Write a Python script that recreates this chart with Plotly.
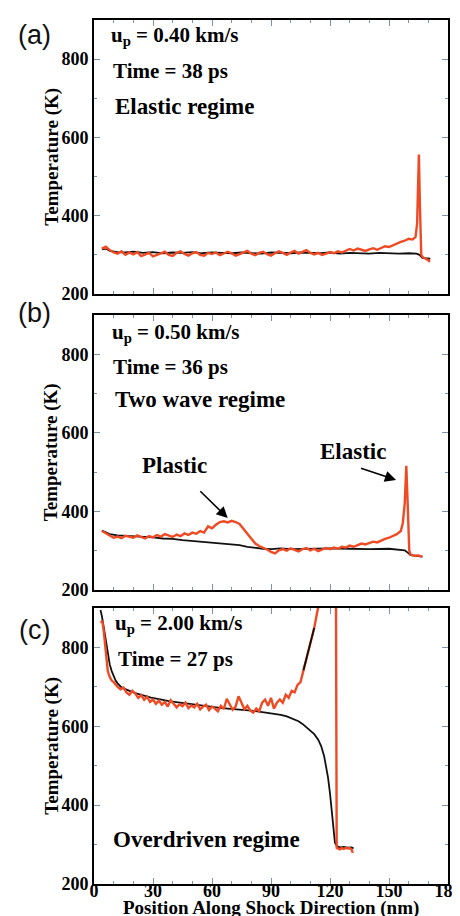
import plotly.graph_objects as go

# ---------------- data ----------------
# Panel (a): up = 0.40 km/s, 38 ps
a_black_x = [4, 6, 8, 12, 16, 20, 25, 30, 35, 40, 45, 50, 55, 60, 65, 70, 75, 80, 85, 90,
             95, 100, 105, 110, 115, 120, 125, 130, 135, 140, 145, 150, 155, 160, 164, 165.5, 167, 169, 171]
a_black_y = [314, 316, 310, 307, 306, 308, 305, 307, 304, 306, 305, 307, 304, 306, 305, 304, 306, 305, 303, 306,
             305, 304, 306, 305, 304, 306, 303, 305, 304, 303, 305, 304, 303, 304, 303, 300, 292, 291, 290]

a_red_x = [4, 6, 8, 10, 12, 14, 16, 18, 20, 22,
           24, 26, 28, 30, 32, 34, 36, 38, 40, 42,
           44, 46, 48, 50, 52, 54, 56, 58, 60, 62,
           64, 66, 68, 70, 72, 74, 76, 78, 80, 82,
           84, 86, 88, 90, 92, 94, 96, 98, 100, 102,
           104, 106, 108, 110, 112, 114, 116, 118, 120, 122,
           124, 126, 128, 130, 132, 134, 136, 138, 140, 142,
           144, 146, 148, 150, 152, 154, 156, 158, 160, 162,
           163.5, 164.3, 165.2, 165.7, 166.4, 167.2, 168, 169, 170, 170.8]
a_red_y = [316, 321, 312, 306, 303, 309, 300, 306, 301, 307,
           297, 301, 305, 296, 301, 304, 308, 300, 297, 305,
           309, 302, 298, 304, 307, 300, 298, 305, 302, 306,
           299, 303, 308, 304, 298, 302, 306, 310, 303, 299,
           305, 308, 302, 298, 304, 309, 305, 300, 306, 310,
           303, 308, 312, 305, 301, 305, 300, 303, 307, 304,
           309, 306, 311, 315, 311, 316, 313, 310, 314, 317,
           313, 318, 322, 320, 325, 329, 333, 336, 341, 339,
           346, 380, 556, 430, 300, 294, 292, 289, 286, 282]

# Panel (b): up = 0.50 km/s, 36 ps
b_black_x = [4, 6, 8, 12, 16, 20, 25, 30, 35, 40, 45, 50, 55, 60, 65, 70, 74, 78, 82, 86,
             90, 95, 100, 110, 120, 130, 140, 150, 155, 158, 159.5, 161, 164, 167]
b_black_y = [351, 347, 342, 339, 338, 337, 336, 334, 331, 330, 327, 325, 323, 321, 319, 317, 314, 310, 307, 305,
             304, 306, 304, 305, 306, 305, 304, 305, 303, 301, 295, 289, 287, 285]

b_red_x = [4, 6, 8, 10, 12, 14, 16, 18, 20, 22,
           24, 26, 28, 30, 32, 34, 36, 38, 40, 42,
           44, 46, 48, 50, 52, 54, 56, 58, 60, 62,
           64, 66, 68, 70, 72, 74, 76, 78, 80, 82,
           84, 86, 88, 90, 92, 94, 96, 98, 100, 102,
           104, 106, 108, 110, 112, 114, 116, 118, 120, 122,
           124, 126, 128, 130, 132, 134, 136, 138, 140, 142,
           144, 146, 148, 150, 152, 154, 156,
           157, 158, 158.8, 159.5, 160.3, 161, 163, 165, 167]
b_red_y = [350, 344, 338, 333, 336, 332, 338, 335, 333, 339,
           336, 331, 337, 334, 340, 336, 342, 338, 335, 341,
           337, 344, 340, 346, 343, 350, 346, 362, 357, 366,
           373, 375, 372, 376, 373, 368, 355, 345, 330, 318,
           312, 308, 303, 297, 293, 301, 304, 300, 306, 302,
           298, 304, 307, 301, 305, 299, 303, 307, 304, 308,
           305, 310, 308, 313, 310, 315, 318, 316, 320, 323,
           321, 326, 330, 333, 338, 342, 350,
           370, 420, 516, 420, 300, 290, 287, 288, 284]

# Panel (c): up = 2.00 km/s, 27 ps
c_black_x = [3.3, 4, 5, 6, 7, 8, 9, 10, 11, 12, 13.5, 15, 17, 19, 21, 23, 25, 27, 29, 31,
             33, 35, 38, 41, 44, 47, 50, 53, 56, 59, 62, 65, 68, 71, 74, 77, 80, 83, 86, 89,
             92, 95, 98, 101, 104, 106, 108, 110, 112, 114, 115.5, 117, 118, 119, 120, 121,
             121.8, 122.5, 123.5, 125, 127, 129, 131, 132]
c_black_y = [895, 880, 850, 815, 782, 757, 740, 727, 716, 709, 701, 696, 691, 688, 684, 681, 678, 676, 673, 671,
             668, 667, 664, 662, 659, 657, 655, 653, 651, 650, 648, 646, 645, 644, 642, 641, 640, 638, 636, 634,
             632, 629, 625, 620, 613, 606, 598, 590, 580, 566, 550, 525, 500, 470, 430, 380,
             330, 305, 296, 293, 294, 292, 293, 290]

c_black2_x = [106.5, 107.2, 108, 109, 110, 111, 112]
c_black2_y = [742, 756, 766, 785, 806, 830, 850]

c_red_x = [3.5, 4.2, 5, 6, 7, 8, 9, 10, 11, 12,
           13.5, 15, 16.5, 18, 19.5, 21, 22.5, 24, 25.5, 27,
           28.5, 30, 31.5, 33, 34.5, 36, 37.5, 39, 40.5, 42,
           43.5, 45, 46.5, 48, 49.5, 51, 52.5, 54, 55.5, 57,
           58.5, 60, 61.5, 63, 64.5, 66, 67.5, 69, 70.5, 72,
           73.5, 75, 76.5, 78, 79.5, 81, 82.5, 84, 85.5, 87,
           88.5, 90, 91.5, 93, 94.5, 96, 97.5, 99, 100.5, 102,
           103.5, 105, 106.5, 108, 110, 112, 113.5, 115, 117, 119,
           121, 122.6, 123.0, 123.4, 124, 125, 126, 127, 128, 129,
           130, 131, 131.6]
c_red_y = [862, 868, 840, 790, 740, 725, 716, 712, 706, 700,
           694, 698, 686, 680, 690, 683, 672, 679, 667, 675,
           662, 668, 657, 665, 655, 662, 650, 666, 657, 648,
           656, 651, 660, 646, 653, 648, 657, 643, 650, 655,
           641, 650, 645, 638, 652, 644, 670, 655, 642, 650,
           676, 660, 643, 652, 640, 635, 645, 638, 660, 668,
           652, 672, 645, 660, 668, 660, 680, 672, 690, 686,
           705, 712, 742, 766, 806, 850, 890, 925, 980, 1030,
           1060, 1040, 1000, 292, 290, 288, 291, 289, 292, 290,
           291, 287, 279]

panels = [
    ("x", "y", a_black_x, a_black_y, a_red_x, a_red_y),
    ("x2", "y2", b_black_x, b_black_y, b_red_x, b_red_y),
    ("x3", "y3", c_black_x, c_black_y, c_red_x, c_red_y),
]

RED = "#ee4a24"
BLACK = "#111111"
SERIF = "Liberation Serif"

fig = go.Figure()
for xa, ya, bx, by, rx, ry in panels:
    fig.add_trace(go.Scatter(x=bx, y=by, mode="lines", xaxis=xa, yaxis=ya,
                             line=dict(color=BLACK, width=1.8), hoverinfo="skip"))
    fig.add_trace(go.Scatter(x=rx, y=ry, mode="lines", xaxis=xa, yaxis=ya,
                             line=dict(color=RED, width=2.4), hoverinfo="skip"))
fig.add_trace(go.Scatter(x=c_black2_x, y=c_black2_y, mode="lines", xaxis="x3", yaxis="y3",
                         line=dict(color=BLACK, width=1.8), hoverinfo="skip"))

TICKC = "#7f93a8"
tickfont = dict(family=SERIF, size=18, color="black", weight="bold")


def xax(anchor, labels):
    return dict(range=[0, 180], domain=[0, 1], anchor=anchor, showline=True, linecolor="black",
                linewidth=2, mirror="allticks", ticks="inside", ticklen=6, tickwidth=1.2,
                tickcolor=TICKC, tick0=0, dtick=30, showgrid=False, zeroline=False,
                minor=dict(dtick=10, ticks="inside", ticklen=3, tickcolor=TICKC, showgrid=False),
                showticklabels=labels, tickfont=tickfont, ticklabeloverflow="allow",
                ticklabelstandoff=-11)


def yax(anchor, dom):
    return dict(range=[200, 900], domain=dom, anchor=anchor, showline=True, linecolor="black",
                linewidth=2, mirror="allticks", ticks="inside", ticklen=6, tickwidth=1.2,
                tickcolor=TICKC, tick0=200, dtick=200, showgrid=False, zeroline=False,
                minor=dict(dtick=100, ticks="inside", ticklen=3, tickcolor=TICKC, showgrid=False),
                tickfont=tickfont, ticklabelstandoff=0, ticklabeloverflow="allow")


dom_a = [0.6829, 1.0]
dom_b = [0.3403, 0.6586]
dom_c = [0.0, 0.3194]

fig.update_layout(
    width=460, height=916,
    margin=dict(l=86, r=6, t=12, b=40),
    paper_bgcolor="white", plot_bgcolor="white",
    showlegend=False,
    xaxis=xax("y", False), yaxis=yax("x", dom_a),
    xaxis2=xax("y2", False), yaxis2=yax("x2", dom_b),
    xaxis3=xax("y3", True), yaxis3=yax("x3", dom_c),
)

ann = []
f_small = dict(family=SERIF, size=21, color="black", weight="bold")
f_big = dict(family=SERIF, size=23, color="black", weight="bold")


def txt(xr, yr, x, y, t, f, xanchor="left"):
    ann.append(dict(xref=xr, yref=yr, x=x, y=y, text=t, showarrow=False, font=f,
                    xanchor=xanchor, yanchor="middle"))


# panel (a)
txt("x", "y", 7.7, 859, "u<sub>p</sub> = 0.40 km/s", f_small)
txt("x", "y", 8.5, 770, "Time = 38 ps", f_small)
txt("x", "y", 9.8, 678, "Elastic regime", f_big)
# panel (b)
txt("x2", "y2", 8.1, 854, "u<sub>p</sub> = 0.50 km/s", f_small)
txt("x2", "y2", 8.8, 768, "Time = 36 ps", f_small)
txt("x2", "y2", 9.8, 686, "Two wave regime", f_big)
txt("x2", "y2", 41.1, 518, "Plastic", f_big, "center")
txt("x2", "y2", 131.6, 553, "Elastic", f_big, "center")
# panel (c)
txt("x3", "y3", 9.6, 859, "u<sub>p</sub> = 2.00 km/s", f_small)
txt("x3", "y3", 11.3, 771, "Time = 27 ps", f_small)
txt("x3", "y3", 8.8, 314, "Overdriven regime", f_big)

# arrows
for (hx, hy, tx, ty) in [(68.0, 383, 53.3, 455), (153.6, 480, 135.0, 511)]:
    ann.append(dict(xref="x2", yref="y2", axref="x2", ayref="y2", x=hx, y=hy, ax=tx, ay=ty,
                    text="", showarrow=True, arrowhead=2, arrowsize=1.4, arrowwidth=1.6,
                    arrowcolor="black"))

# panel letters
for lab, py in [("(a)", 0.9826), ("(b)", 0.6609), ("(c)", 0.294)]:
    ann.append(dict(xref="paper", yref="paper", x=-0.1676, y=py, text=lab, showarrow=False,
                    font=dict(family="Liberation Sans", size=27, color="#111111"),
                    xanchor="center", yanchor="middle"))

# y titles
for dom in (dom_a, dom_b, dom_c):
    ann.append(dict(xref="paper", yref="paper", x=-0.1196, y=(dom[0] + dom[1]) / 2,
                    text="Temperature (K)", textangle=-90, showarrow=False,
                    font=dict(family=SERIF, size=19, color="black", weight="bold"),
                    xanchor="center", yanchor="middle"))

# x title
ann.append(dict(xref="paper", yref="paper", x=0.5, y=-0.0272, text="Position Along Shock Direction (nm)",
                showarrow=False, font=dict(family=SERIF, size=19, color="black", weight="bold"),
                xanchor="center", yanchor="middle"))

fig.update_layout(annotations=ann)
fig.write_html("out.html")
